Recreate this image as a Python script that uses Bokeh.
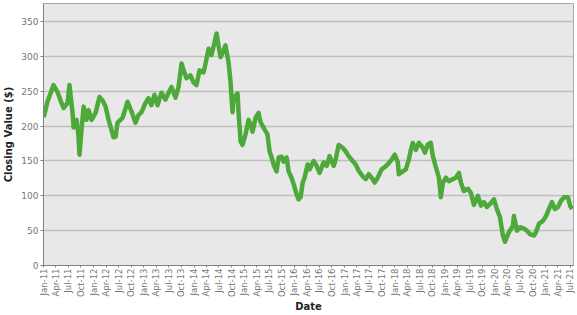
import pandas as pd
from math import pi
from bokeh.plotting import figure
from bokeh.models import Range1d, FixedTicker
from bokeh.embed import file_html
from bokeh.resources import INLINE

dates = [
    "2011-01-03", "2011-01-30", "2011-03-15", "2011-04-13", "2011-05-05", "2011-05-27",
    "2011-06-25", "2011-07-09", "2011-07-31", "2011-08-08", "2011-08-30", "2011-09-13",
    "2011-09-20", "2011-10-05", "2011-10-20", "2011-11-10", "2011-11-25", "2011-12-17",
    "2012-01-15", "2012-02-13", "2012-03-06", "2012-03-28", "2012-04-19", "2012-05-25",
    "2012-06-09", "2012-06-23", "2012-07-30", "2012-08-21", "2012-09-04", "2012-10-03",
    "2012-11-01", "2012-11-23", "2012-12-15", "2013-01-12", "2013-02-03", "2013-02-25",
    "2013-03-19", "2013-04-10", "2013-05-09", "2013-06-07", "2013-06-22", "2013-07-21",
    "2013-08-19", "2013-09-10", "2013-10-02", "2013-10-24", "2013-11-07", "2013-12-06",
    "2013-12-28", "2014-01-19", "2014-02-10", "2014-03-11", "2014-03-26", "2014-04-17",
    "2014-05-08", "2014-05-30", "2014-06-14", "2014-06-28", "2014-07-13", "2014-07-28",
    "2014-08-18", "2014-09-09", "2014-09-24", "2014-10-08", "2014-10-16", "2014-11-14",
    "2014-11-21", "2014-12-06", "2014-12-20", "2015-01-11", "2015-02-02", "2015-02-17",
    "2015-03-03", "2015-03-25", "2015-04-16", "2015-04-30", "2015-05-22", "2015-06-20",
    "2015-07-05", "2015-07-20", "2015-08-03", "2015-08-25", "2015-09-09", "2015-10-01",
    "2015-10-15", "2015-11-06", "2015-11-21", "2015-12-12", "2015-12-27", "2016-01-18",
    "2016-02-01", "2016-02-16", "2016-03-02", "2016-03-16", "2016-04-07", "2016-04-22",
    "2016-05-21", "2016-06-12", "2016-07-03", "2016-08-02", "2016-08-24", "2016-09-14",
    "2016-10-14", "2016-10-28", "2016-11-19", "2016-12-18", "2017-01-09", "2017-01-31",
    "2017-03-01", "2017-03-23", "2017-04-14", "2017-05-13", "2017-06-04", "2017-06-26",
    "2017-07-25", "2017-08-08", "2017-08-30", "2017-09-28", "2017-10-20", "2017-11-11",
    "2017-12-10", "2018-01-02", "2018-01-24", "2018-01-31", "2018-03-01", "2018-03-23",
    "2018-04-14", "2018-04-29", "2018-05-13", "2018-06-04", "2018-06-26", "2018-07-25",
    "2018-08-09", "2018-08-31", "2018-09-21", "2018-10-06", "2018-10-28", "2018-11-19",
    "2018-12-03", "2018-12-18", "2019-01-09", "2019-01-31", "2019-03-01", "2019-03-23",
    "2019-04-14", "2019-04-28", "2019-05-20", "2019-06-19", "2019-07-10", "2019-08-01",
    "2019-08-30", "2019-09-21", "2019-10-13", "2019-11-04", "2019-11-25", "2019-12-25",
    "2020-01-15", "2020-02-06", "2020-02-28", "2020-03-14", "2020-04-05", "2020-04-19",
    "2020-05-11", "2020-05-18", "2020-06-09", "2020-07-01", "2020-07-30", "2020-08-21",
    "2020-09-12", "2020-10-11", "2020-10-26", "2020-11-17", "2020-12-16", "2021-01-07",
    "2021-01-28", "2021-02-19", "2021-03-13", "2021-04-04", "2021-04-26", "2021-05-18",
    "2021-06-16", "2021-07-01", "2021-07-15",
]

closing = [
    213, 235, 259, 249, 237, 226,
    233, 259, 220, 198, 209, 185,
    159, 195, 228, 209, 223, 209,
    219, 242, 237, 228, 209, 184,
    185, 205, 212, 226, 235, 221,
    205, 216, 220, 233, 240, 230,
    245, 230, 248, 238, 245, 256,
    241, 256, 290, 276, 269, 273,
    263, 259, 280, 277, 290, 311,
    302, 320, 333, 316, 299, 305,
    316, 292, 263, 220, 240, 247,
    220, 178, 173, 188, 209, 202,
    192, 212, 219, 206, 198, 188,
    164, 155, 145, 135, 155, 156,
    149, 155, 135, 126, 117, 102,
    95, 98, 119, 126, 145, 138,
    150, 143, 133, 148, 143, 157,
    143, 152, 173, 169, 164, 157,
    150, 145, 136, 128, 124, 131,
    124, 119, 126, 138, 141, 145,
    152, 159, 148, 131, 135, 138,
    152, 166, 176, 166, 176, 169,
    162, 174, 176, 157, 141, 126,
    98, 119, 126, 121, 124, 126,
    133, 119, 107, 110, 104, 87,
    100, 86, 91, 84, 88, 95,
    81, 70, 43, 34, 45, 50,
    57, 71, 50, 55, 53, 50,
    45, 43, 48, 60, 64, 71,
    81, 91, 81, 84, 93, 98,
    98, 86, 81,
]

x_tick_labels = [
    "Jan-11", "Apr-11", "Jul-11", "Oct-11", "Jan-12", "Apr-12", "Jul-12", "Oct-12",
    "Jan-13", "Apr-13", "Jul-13", "Oct-13", "Jan-14", "Apr-14", "Jul-14", "Oct-14",
    "Jan-15", "Apr-15", "Jul-15", "Oct-15", "Jan-16", "Apr-16", "Jul-16", "Oct-16",
    "Jan-17", "Apr-17", "Jul-17", "Oct-17", "Jan-18", "Apr-18", "Jul-18", "Oct-18",
    "Jan-19", "Apr-19", "Jul-19", "Oct-19", "Jan-20", "Apr-20", "Jul-20", "Oct-20",
    "Jan-21", "Apr-21", "Jul-21",
]
y_ticks = [0, 50, 100, 150, 200, 250, 300, 350]

x = pd.to_datetime(dates)
tick_dates = pd.to_datetime(x_tick_labels, format="%b-%y")
tick_ms = [float(t.value // 10**6) for t in tick_dates]

p = figure(
    width=577, height=315, x_axis_type="datetime",
    output_backend="svg", toolbar_location=None,
    x_range=Range1d(pd.Timestamp("2011-01-01"), pd.Timestamp("2021-07-26")),
    y_range=Range1d(0, 376),
    min_border_left=43, min_border_right=4, min_border_top=3, min_border_bottom=48,
    background_fill_color="#E8E8E8", border_fill_color="white",
    outline_line_color="#A8A8A8", outline_line_width=1,
)

p.line(x, closing, line_color="#4DAA3A", line_width=4.5, line_join="round")

font = "DejaVu Sans"
p.xaxis.ticker = FixedTicker(ticks=tick_ms)
p.xaxis.major_label_overrides = {t: l for t, l in zip(tick_ms, x_tick_labels)}
p.xaxis.major_label_orientation = pi / 2
p.yaxis.ticker = FixedTicker(ticks=y_ticks)

for ax in (p.xaxis[0], p.yaxis[0]):
    ax.major_label_text_font = font
    ax.major_label_text_font_size = "9px"
    ax.major_label_text_color = "#777777"
    ax.axis_label_text_font = font
    ax.axis_label_text_font_size = "10px"
    ax.axis_label_text_font_style = "bold"
    ax.axis_label_text_color = "#222222"
    ax.axis_line_color = "#808080"
    ax.major_tick_line_color = "#808080"
    ax.major_tick_out = 3
    ax.major_tick_in = 0
    ax.minor_tick_line_color = None
    ax.major_label_standoff = 2
    ax.axis_label_standoff = 4

p.xaxis.major_label_text_font_size = "8.5px"
p.xaxis.major_label_standoff = 1
p.xaxis.axis_label_standoff = 1
p.xaxis.major_tick_out = 2

p.xaxis.axis_label = "Date"
p.yaxis.axis_label = "Closing Value ($)"

p.xgrid.visible = False
p.ygrid.grid_line_color = "#BEBEBE"
p.ygrid.grid_line_width = 1.5

open("out.html", "w").write(file_html(p, INLINE))
